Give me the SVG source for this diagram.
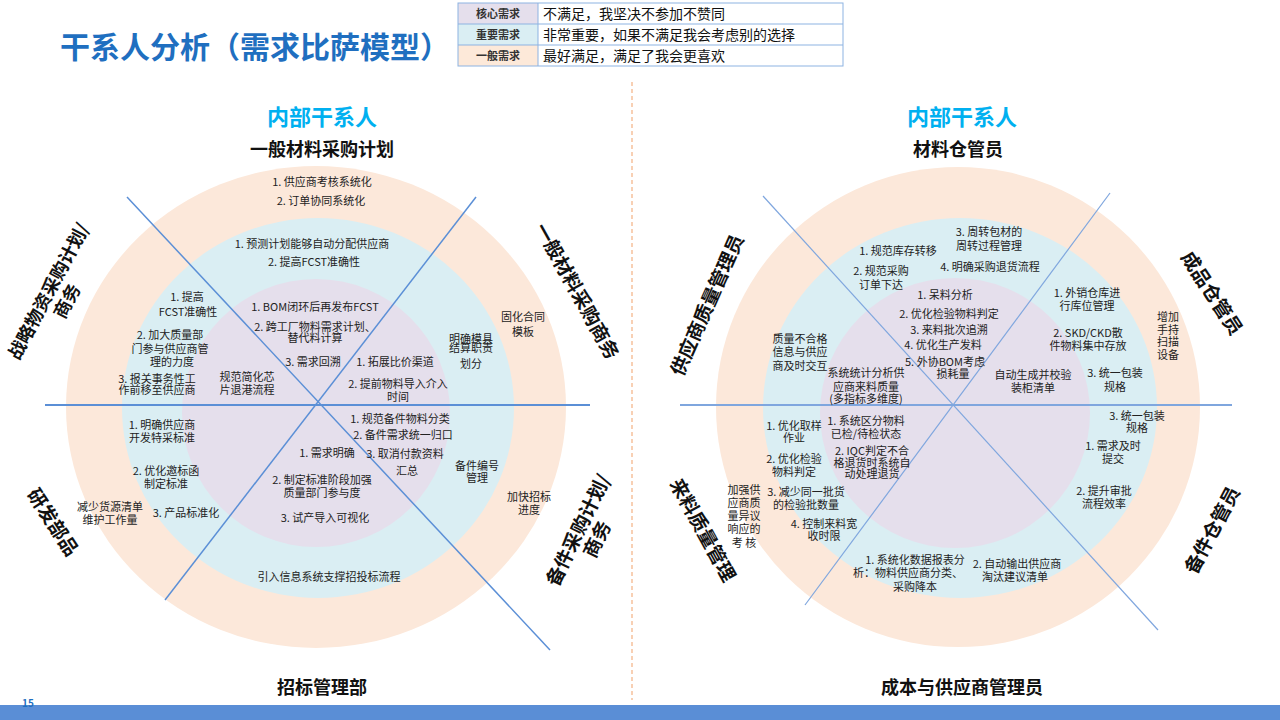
<svg xmlns="http://www.w3.org/2000/svg" width="1280" height="720" viewBox="0 0 1280 720">
<style>
text{font-family:"Noto Sans CJK SC","Noto Sans",sans-serif;fill:#222}
.t{font-size:11px;text-anchor:middle}
.lab{font-size:19px;font-weight:bold;text-anchor:middle;fill:#111}
.head{font-size:22px;font-weight:bold;text-anchor:middle;fill:#00B0F0}
.sub{font-size:18px;font-weight:bold;text-anchor:middle;fill:#111}
.peach{fill:#FCE8DA}
.blue{fill:#DAEEF3}
.purple{fill:#E5DFEC}
.ln{stroke:#5B8FD6;stroke-width:1.5;fill:none}
.ln2{stroke:#7FA6DE;stroke-width:1.2;fill:none}
.lg{font-size:11px;font-weight:bold;text-anchor:middle;fill:#333}
.lt{font-size:14px;fill:#111}
</style>
<rect width="1280" height="720" fill="#fff"/>
<text x="60" y="58" style="font-size:30px;font-weight:bold;fill:#1F6FC0">干系人分析（需求比萨模型）</text>
<g id="legend">
<rect x="458" y="3" width="80" height="21" fill="#E5DFEC"/>
<rect x="458" y="24" width="80" height="21" fill="#DAEEF3"/>
<rect x="458" y="45" width="80" height="21" fill="#FDE9D9"/>
<rect x="458" y="3" width="385" height="63" fill="none" stroke="#8DB3E2" stroke-width="1"/>
<line x1="538" y1="3" x2="538" y2="66" stroke="#8DB3E2"/>
<line x1="458" y1="24" x2="843" y2="24" stroke="#8DB3E2"/>
<line x1="458" y1="45" x2="843" y2="45" stroke="#8DB3E2"/>
<text class="lg" x="498" y="18">核心需求</text>
<text class="lg" x="498" y="39">重要需求</text>
<text class="lg" x="498" y="60">一般需求</text>
<text class="lt" x="543" y="19">不满足，我坚决不参加不赞同</text>
<text class="lt" x="543" y="40">非常重要，如果不满足我会考虑别的选择</text>
<text class="lt" x="543" y="61">最好满足，满足了我会更喜欢</text>
</g>
<line x1="632" y1="82" x2="632" y2="700" stroke="#F4B183" stroke-width="1.2" stroke-dasharray="4,3"/>
<g id="left-pizza">
<ellipse class="peach" cx="316" cy="407" rx="250" ry="241"/>
<ellipse class="blue" cx="318" cy="408" rx="196" ry="190"/>
<circle class="purple" cx="316" cy="413" r="134"/>
</g>
<g id="right-pizza">
<ellipse class="peach" cx="958" cy="407" rx="242" ry="240"/>
<ellipse class="blue" cx="960" cy="408" rx="197" ry="190"/>
<circle class="purple" cx="955" cy="413" r="135"/>
</g>
<g id="connectors">
<line class="ln" x1="45" y1="405" x2="590" y2="405" style="stroke-width:2"/>
<line class="ln" x1="127" y1="197" x2="550" y2="650"/>
<line class="ln" x1="476" y1="197" x2="165" y2="600"/>
<line class="ln2" x1="680" y1="405" x2="1232" y2="405" style="stroke-width:2"/>
<line class="ln2" x1="763" y1="196" x2="1158" y2="630"/>
<line class="ln2" x1="1110" y1="193" x2="805" y2="605"/>
</g>
<g id="left-labels">
<text class="head" x="322" y="125">内部干系人</text>
<text class="sub" x="322" y="156">一般材料采购计划</text>
<text class="sub" x="322" y="694">招标管理部</text>
<text class="lab" transform="translate(48,291) rotate(-62)" style="font-size:18px"><tspan x="0" y="7">战略物资采购计划/</tspan><tspan x="0" y="28">商务</tspan></text>
<text class="lab" transform="translate(577,291) rotate(61)" y="7">一般材料采购商务</text>
<text class="lab" transform="translate(53,522) rotate(57)" y="7">研发部品</text>
<text class="lab" transform="translate(578,530) rotate(-64)"><tspan x="0" y="7">备件采购计划/</tspan><tspan x="0" y="28">商务</tspan></text>
</g>
<g id="left-texts">
<text class="t" x="322" y="186">1. 供应商考核系统化</text>
<text class="t" x="321" y="205">2. 订单协同系统化</text>
<text class="t" x="312" y="248">1. 预测计划能够自动分配供应商</text>
<text class="t" x="314" y="266">2. 提高FCST准确性</text>
<text class="t"><tspan x="187" y="301">1. 提高</tspan><tspan x="188" y="316">FCST准确性</tspan></text>
<text class="t"><tspan x="170" y="339">2. 加大质量部</tspan><tspan x="170" y="353">门参与供应商管</tspan><tspan x="172" y="366">理的力度</tspan></text>
<text class="t"><tspan x="157" y="383">3. 报关事务性工</tspan><tspan x="157" y="394">作前移至供应商</tspan></text>
<text class="t"><tspan x="247" y="381">规范简化芯</tspan><tspan x="247" y="394">片退港流程</tspan></text>
<text class="t" x="315" y="311">1. BOM闭环后再发布FCST</text>
<text class="t"><tspan x="315" y="331">2. 跨工厂物料需求计划、</tspan><tspan x="315" y="342">替代料计算</tspan></text>
<text class="t" x="313" y="366">3. 需求回溯</text>
<text class="t" x="395" y="366">1. 拓展比价渠道</text>
<text class="t"><tspan x="398" y="388">2. 提前物料导入介入</tspan><tspan x="398" y="401">时间</tspan></text>
<text class="t"><tspan x="471" y="343">明确模具</tspan><tspan x="471" y="352">结算职责</tspan><tspan x="471" y="368">划分</tspan></text>
<text class="t"><tspan x="523" y="321">固化合同</tspan><tspan x="523" y="336">模板</tspan></text>
<text class="t"><tspan x="162" y="429">1. 明确供应商</tspan><tspan x="162" y="442">开发特采标准</tspan></text>
<text class="t"><tspan x="166" y="475">2. 优化邀标函</tspan><tspan x="166" y="488">制定标准</tspan></text>
<text class="t" x="186" y="517">3. 产品标准化</text>
<text class="t"><tspan x="110" y="511">减少货源清单</tspan><tspan x="110" y="524">维护工作量</tspan></text>
<text class="t" x="327" y="457">1. 需求明确</text>
<text class="t"><tspan x="322" y="484">2. 制定标准阶段加强</tspan><tspan x="322" y="497">质量部门参与度</tspan></text>
<text class="t" x="325" y="522">3. 试产导入可视化</text>
<text class="t" x="400" y="423">1. 规范备件物料分类</text>
<text class="t" x="403" y="439">2. 备件需求统一归口</text>
<text class="t"><tspan x="405" y="458">3. 取消付款资料</tspan><tspan x="407" y="475">汇总</tspan></text>
<text class="t"><tspan x="477" y="470">备件编号</tspan><tspan x="477" y="482">管理</tspan></text>
<text class="t"><tspan x="529" y="501">加快招标</tspan><tspan x="529" y="514">进度</tspan></text>
<text class="t" x="329" y="581">引入信息系统支撑招投标流程</text>
</g>
<g id="right-labels">
<text class="head" x="962" y="125">内部干系人</text>
<text class="sub" x="958" y="156">材料仓管员</text>
<text class="sub" x="962" y="694">成本与供应商管理员</text>
<text class="lab" transform="translate(707,305) rotate(-66)" y="7">供应商质量管理员</text>
<text class="lab" transform="translate(1212,293) rotate(57)" y="7">成品仓管员</text>
<text class="lab" transform="translate(703,530) rotate(61)" y="7">来料质量管理</text>
<text class="lab" transform="translate(1212,530) rotate(-62)" y="7">备件仓管员</text>
</g>
<g id="right-texts">
<text class="t" x="898" y="255">1. 规范库存转移</text>
<text class="t"><tspan x="881" y="275">2. 规范采购</tspan><tspan x="881" y="289">订单下达</tspan></text>
<text class="t"><tspan x="989" y="236">3. 周转包材的</tspan><tspan x="989" y="250">周转过程管理</tspan></text>
<text class="t" x="990" y="271">4. 明确采购退货流程</text>
<text class="t" x="945" y="299">1. 呆料分析</text>
<text class="t" x="949" y="318">2. 优化检验物料判定</text>
<text class="t" x="949" y="334">3. 来料批次追溯</text>
<text class="t" x="943" y="349">4. 优化生产发料</text>
<text class="t"><tspan x="945" y="366">5. 外协BOM考虑</tspan><tspan x="953" y="378">损耗量</tspan></text>
<text class="t"><tspan x="866" y="377">系统统计分析供</tspan><tspan x="866" y="391">应商来料质量</tspan><tspan x="866" y="403">(多指标多维度)</tspan></text>
<text class="t"><tspan x="1033" y="379">自动生成并校验</tspan><tspan x="1033" y="392">装柜清单</tspan></text>
<text class="t"><tspan x="800" y="343">质量不合格</tspan><tspan x="800" y="356">信息与供应</tspan><tspan x="800" y="370">商及时交互</tspan></text>
<text class="t"><tspan x="1087" y="297">1. 外销仓库进</tspan><tspan x="1087" y="310">行库位管理</tspan></text>
<text class="t"><tspan x="1088" y="337">2. SKD/CKD散</tspan><tspan x="1088" y="350">件物料集中存放</tspan></text>
<text class="t"><tspan x="1115" y="377">3. 统一包装</tspan><tspan x="1115" y="391">规格</tspan></text>
<text class="t"><tspan x="1168" y="321">增加</tspan><tspan x="1168" y="334">手持</tspan><tspan x="1168" y="346">扫描</tspan><tspan x="1168" y="359">设备</tspan></text>
<text class="t"><tspan x="794" y="430">1. 优化取样</tspan><tspan x="794" y="442">作业</tspan></text>
<text class="t"><tspan x="794" y="463">2. 优化检验</tspan><tspan x="794" y="476">物料判定</tspan></text>
<text class="t"><tspan x="806" y="496">3. 减少同一批货</tspan><tspan x="806" y="509">的检验批数量</tspan></text>
<text class="t"><tspan x="824" y="528">4. 控制来料宽</tspan><tspan x="824" y="540">收时限</tspan></text>
<text class="t"><tspan x="866" y="425">1. 系统区分物料</tspan><tspan x="866" y="438">已检/待检状态</tspan></text>
<text class="t"><tspan x="872" y="455">2. IQC判定不合</tspan><tspan x="872" y="467">格退货时系统自</tspan><tspan x="872" y="478">动处理退货</tspan></text>
<text class="t"><tspan x="744" y="494">加强供</tspan><tspan x="744" y="507">应商质</tspan><tspan x="744" y="520">量异议</tspan><tspan x="744" y="533">响应的</tspan><tspan x="744" y="547">考 核</tspan></text>
<text class="t"><tspan x="915" y="564">1. 系统化数据报表分</tspan><tspan x="908" y="577">析：物料供应商分类、</tspan><tspan x="915" y="591">采购降本</tspan></text>
<text class="t"><tspan x="1017" y="568">2. 自动输出供应商</tspan><tspan x="1015" y="581">淘汰建议清单</tspan></text>
<text class="t"><tspan x="1137" y="420">3. 统一包装</tspan><tspan x="1137" y="432">规格</tspan></text>
<text class="t"><tspan x="1113" y="450">1. 需求及时</tspan><tspan x="1113" y="463">提交</tspan></text>
<text class="t"><tspan x="1104" y="495">2. 提升审批</tspan><tspan x="1104" y="508">流程效率</tspan></text>
</g>
<rect x="0" y="705" width="1280" height="15" fill="#5A8ED6"/>
<text x="22" y="707" style="font-size:10px;font-weight:bold;fill:#1F6FC0">15</text>
</svg>
